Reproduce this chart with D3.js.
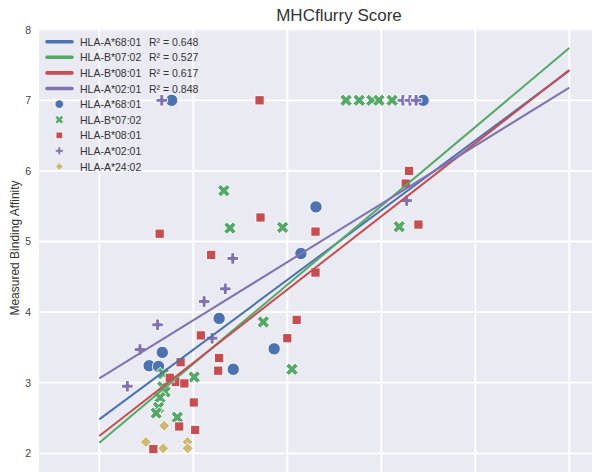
<!DOCTYPE html>
<html>
<head>
<meta charset="utf-8">
<script src="https://cdn.jsdelivr.net/npm/d3@7"></script>
<style>
  html, body { margin: 0; padding: 0; background: #ffffff; }
  svg { display: block; font-family: "Liberation Sans", Arial, Helvetica, sans-serif; }
</style>
</head>
<body>
<svg id="chart" width="592" height="472"></svg>
<script>
// ---------------- data ----------------
const alleles = ["HLA-A*68:01", "HLA-B*07:02", "HLA-B*08:01", "HLA-A*02:01", "HLA-A*24:02"];
const colors  = ["#4C72B0", "#55A868", "#C44E52", "#8172B2", "#CCB974"];
const markers = ["circle", "x", "square", "plus", "diamond"];

// scatter values (MHCflurry score, measured binding affinity)
const a6801_x = [0.154, 0.689, 0.461, 0.429, 0.255, 0.372, 0.134, 0.106, 0.126, 0.285];
const a6801_y = [7.00, 7.00, 5.49, 4.83, 3.91, 3.48, 3.43, 3.24, 3.23, 3.19];

const b0702_x = [0.525, 0.553, 0.580, 0.595, 0.623, 0.265, 0.278, 0.390, 0.638, 0.349, 0.410, 0.202, 0.136, 0.135, 0.140, 0.129, 0.126, 0.121, 0.166];
const b0702_y = [7.00, 7.00, 7.00, 7.00, 7.00, 5.72, 5.19, 5.20, 5.21, 3.86, 3.19, 3.08, 3.13, 2.94, 2.87, 2.79, 2.65, 2.57, 2.51];

const b0801_x = [0.341, 0.343, 0.1285, 0.460, 0.238, 0.460, 0.420, 0.400, 0.216, 0.173, 0.255, 0.253, 0.163, 0.181, 0.150, 0.201, 0.170, 0.204, 0.115, 0.659, 0.652, 0.679];
const b0801_y = [7.00, 5.34, 5.11, 5.14, 4.81, 4.56, 3.89, 3.63, 3.67, 3.29, 3.35, 3.17, 3.01, 2.99, 3.07, 2.72, 2.38, 2.33, 2.06, 6.00, 5.82, 5.24];

const a0201_x = [0.133, 0.646, 0.661, 0.674, 0.654, 0.284, 0.268, 0.223, 0.124, 0.240, 0.0866, 0.0596];
const a0201_y = [7.00, 7.00, 7.00, 7.00, 5.58, 4.76, 4.33, 4.15, 3.82, 3.63, 3.47, 2.95];

const a2402_x = [0.138, 0.099, 0.136, 0.188, 0.188];
const a2402_y = [2.39, 2.16, 2.07, 2.16, 2.07];

// regression fits: value at score 0 and score 1
const fitAlleles = ["HLA-A*68:01", "HLA-B*07:02", "HLA-B*08:01", "HLA-A*02:01"];
const fitStart   = [2.48, 2.15, 2.245, 3.06];
const fitEnd     = [7.42, 7.74, 7.43, 7.18];
const fitR2      = ["0.648", "0.527", "0.617", "0.848"];

const xTicks = [0, 0.2, 0.4, 0.6, 0.8, 1.0, 1.2];
const yTicks = [2, 3, 4, 5, 6, 7, 8];

// ---------------- layout ----------------
const svg = d3.select("#chart");
const x = d3.scaleLinear().domain([0, 1]).range([99.3, 569.3]);
const y = d3.scaleLinear().domain([2, 8]).range([453.3, 29.7]);
const plotLeft = 39, plotTop = y(8), plotRight = 660, plotBottom = 490;

svg.append("rect")
  .attr("x", plotLeft).attr("y", plotTop)
  .attr("width", plotRight - plotLeft).attr("height", plotBottom - plotTop)
  .attr("fill", "#EAEAF2");

svg.append("clipPath").attr("id", "clip")
  .append("rect").attr("x", plotLeft).attr("y", plotTop)
  .attr("width", plotRight - plotLeft).attr("height", plotBottom - plotTop);

const plot = svg.append("g").attr("clip-path", "url(#clip)");

// grid
plot.append("g").selectAll("line").data(xTicks).join("line")
  .attr("x1", d => x(d)).attr("x2", d => x(d))
  .attr("y1", plotTop).attr("y2", plotBottom)
  .attr("stroke", "#ffffff").attr("stroke-width", 1.8);
plot.append("g").selectAll("line").data(yTicks).join("line")
  .attr("x1", plotLeft).attr("x2", plotRight)
  .attr("y1", d => y(d)).attr("y2", d => y(d))
  .attr("stroke", "#ffffff").attr("stroke-width", 1.8);

// y axis labels
const yAxis = svg.append("g").attr("transform", `translate(${plotLeft},0)`)
  .call(d3.axisLeft(y).tickValues(yTicks).tickSize(0).tickPadding(8).tickFormat(d3.format("d")));
yAxis.select(".domain").remove();
yAxis.selectAll("text").attr("font-size", 10.5).attr("fill", "#444")
  .attr("font-family", "'Liberation Sans', Arial, sans-serif");

// marker shapes
function markerPath(kind, s) {
  if (kind === "circle") return d3.symbol(d3.symbolCircle, Math.PI * (s * 0.56) ** 2)();
  if (kind === "square") return d3.symbol(d3.symbolSquare, (s * 0.84) ** 2)();
  if (kind === "plus") return d3.symbol(d3.symbolCross, 5 * (s * 1.05 / 3) ** 2)();
  if (kind === "x") return d3.symbol(d3.symbolCross, 5 * (s * 1.2 / 3) ** 2)();
  if (kind === "diamond") return d3.symbol(d3.symbolSquare, (s * 0.72) ** 2)();
}
function markerRot(kind) { return (kind === "x" || kind === "diamond") ? 45 : 0; }

const groups = [
  [a6801_x, a6801_y], [b0702_x, b0702_y], [b0801_x, b0801_y], [a0201_x, a0201_y], [a2402_x, a2402_y]
];
groups.forEach((g, i) => {
  const pts = g[0].map((v, j) => ({ x: v, y: g[1][j] }));
  plot.append("g").selectAll("path").data(pts).join("path")
    .attr("d", markerPath(markers[i], 11))
    .attr("transform", d => `translate(${x(d.x)},${y(d.y)}) rotate(${markerRot(markers[i])})`)
    .attr("fill", colors[i]).attr("stroke", "#ffffff").attr("stroke-width", 0.9);
});

// regression lines
const line = d3.line().x(d => x(d[0])).y(d => y(d[1]));
fitAlleles.forEach((a, i) => {
  plot.append("path")
    .attr("d", line([[0, fitStart[i]], [1, fitEnd[i]]]))
    .attr("fill", "none").attr("stroke", colors[i]).attr("stroke-width", 2);
});

// title & y label
svg.append("text").attr("x", 339).attr("y", 21).attr("text-anchor", "middle")
  .attr("font-size", 17).attr("fill", "#333").text("MHCflurry Score");
svg.append("text").attr("transform", "translate(14.5,248) rotate(-90)")
  .attr("text-anchor", "middle").attr("dominant-baseline", "central")
  .attr("font-size", 12).attr("fill", "#333").text("Measured Binding Affinity");

// legend
const legY0 = 41.7, legStep = 15.6;
const leg = svg.append("g").attr("font-size", 10.5).attr("fill", "#333");
fitAlleles.forEach((a, i) => {
  const yy = legY0 + i * legStep;
  leg.append("line").attr("x1", 47).attr("x2", 72).attr("y1", yy).attr("y2", yy)
    .attr("stroke", colors[i]).attr("stroke-width", 3.6).attr("stroke-linecap", "round");
  const t = leg.append("text").attr("x", 80).attr("y", yy).attr("dominant-baseline", "central");
  t.append("tspan").text(a);
  t.append("tspan").attr("x", 149).text("R\u00B2 = " + fitR2[i]);
});
alleles.forEach((a, i) => {
  const yy = legY0 + (i + 4) * legStep;
  leg.append("path").attr("d", markerPath(markers[i], 7.5))
    .attr("transform", `translate(59.3,${yy}) rotate(${markerRot(markers[i])})`)
    .attr("fill", colors[i]).attr("stroke", "#ffffff").attr("stroke-width", 0.6);
  leg.append("text").attr("x", 80).attr("y", yy).attr("dominant-baseline", "central").text(a);
});
</script>
</body>
</html>
